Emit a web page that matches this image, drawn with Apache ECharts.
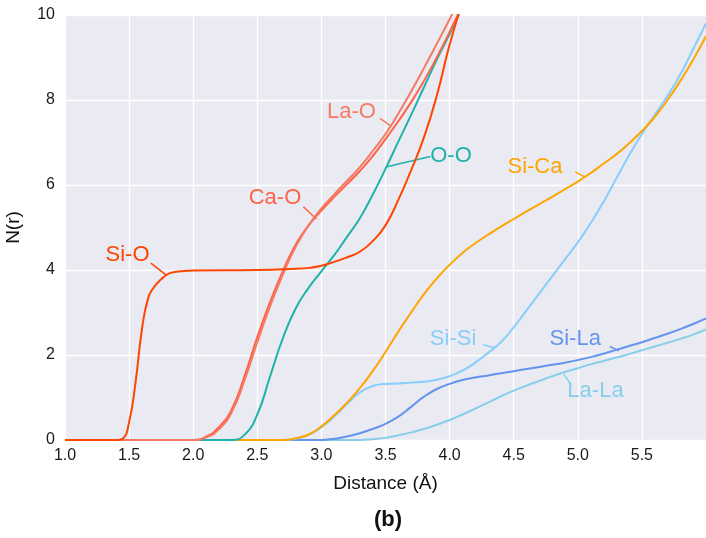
<!DOCTYPE html>
<html><head><meta charset="utf-8">
<script src="https://cdn.jsdelivr.net/npm/echarts@6/dist/echarts.min.js"></script>
<style>html,body{margin:0;padding:0;background:#fff}#c{width:706px;height:538px}</style>
</head><body><div id="c"></div>
<script>
// ---- data ----
const seriesNames = ['Si-O','La-O','Ca-O','O-O','Si-Ca','Si-Si','Si-La','La-La'];
const siO = [[1.0,0],[1.4,0],[1.45,0.03],[1.5,0.42],[1.55,1.35],[1.6,2.6],[1.65,3.35],[1.7,3.62],[1.75,3.78],[1.8,3.9],[1.85,3.95],[1.9,3.97],[2.0,3.99],[2.5,4.0],[2.8,4.03],[2.9,4.05],[3.0,4.1],[3.1,4.19],[3.2,4.3],[3.3,4.43],[3.4,4.68],[3.5,5.05],[3.6,5.65],[3.7,6.35],[3.8,7.12],[3.9,8.1],[4.0,9.3],[4.1,10.3]];
const laO = [[1.0,0],[2.0,0],[2.1,0.06],[2.2,0.25],[2.3,0.65],[2.4,1.4],[2.5,2.3],[2.6,3.15],[2.7,3.9],[2.8,4.55],[2.9,5.05],[3.0,5.45],[3.1,5.78],[3.2,6.1],[3.3,6.42],[3.4,6.8],[3.5,7.2],[3.6,7.68],[3.7,8.2],[3.8,8.75],[3.9,9.32],[4.0,9.9],[4.1,10.5]];
const caO = [[1.0,0],[2.0,0],[2.1,0.08],[2.2,0.3],[2.3,0.72],[2.4,1.5],[2.5,2.42],[2.6,3.25],[2.7,3.98],[2.8,4.6],[2.9,5.05],[3.0,5.4],[3.1,5.72],[3.2,6.02],[3.3,6.33],[3.4,6.68],[3.5,7.08],[3.6,7.5],[3.7,7.95],[3.8,8.45],[3.9,9.0],[4.0,9.6],[4.1,10.25]];
const oO = [[1.0,0],[2.3,0],[2.4,0.12],[2.5,0.6],[2.6,1.5],[2.7,2.4],[2.8,3.1],[2.9,3.58],[3.0,3.97],[3.1,4.35],[3.2,4.78],[3.3,5.22],[3.4,5.77],[3.5,6.38],[3.6,7.02],[3.7,7.65],[3.8,8.3],[3.9,8.95],[4.0,9.55],[4.1,10.2]];
const siCa = [[1.0,0],[2.7,0],[2.8,0.04],[2.9,0.13],[3.0,0.32],[3.1,0.58],[3.2,0.88],[3.3,1.22],[3.4,1.62],[3.5,2.07],[3.6,2.55],[3.7,3.0],[3.8,3.43],[3.9,3.8],[4.0,4.12],[4.1,4.4],[4.2,4.63],[4.3,4.83],[4.4,5.02],[4.5,5.2],[4.6,5.38],[4.7,5.55],[4.8,5.72],[4.9,5.9],[5.0,6.08],[5.1,6.28],[5.2,6.5],[5.3,6.72],[5.4,6.98],[5.5,7.27],[5.6,7.6],[5.7,8.0],[5.8,8.45],[5.9,8.95],[6.0,9.5]];
const siSi = [[1.0,0],[2.7,0],[2.8,0.03],[2.9,0.12],[3.0,0.3],[3.1,0.55],[3.2,0.85],[3.3,1.12],[3.4,1.27],[3.5,1.32],[3.6,1.33],[3.7,1.35],[3.8,1.37],[3.9,1.42],[4.0,1.5],[4.1,1.63],[4.2,1.82],[4.3,2.05],[4.4,2.3],[4.5,2.65],[4.6,3.05],[4.7,3.45],[4.8,3.85],[4.9,4.25],[5.0,4.65],[5.1,5.1],[5.2,5.6],[5.3,6.15],[5.4,6.7],[5.5,7.2],[5.6,7.65],[5.7,8.1],[5.8,8.6],[5.9,9.2],[6.0,9.8]];
const siLa = [[1.0,0],[3.0,0],[3.1,0.03],[3.2,0.08],[3.3,0.16],[3.4,0.26],[3.5,0.38],[3.6,0.55],[3.7,0.78],[3.8,1.02],[3.9,1.2],[4.0,1.32],[4.1,1.41],[4.2,1.47],[4.3,1.52],[4.4,1.57],[4.5,1.62],[4.6,1.67],[4.7,1.72],[4.8,1.77],[4.9,1.82],[5.0,1.88],[5.1,1.95],[5.2,2.03],[5.3,2.12],[5.4,2.21],[5.5,2.3],[5.6,2.4],[5.7,2.5],[5.8,2.61],[5.9,2.73],[6.0,2.86]];
const laLa = [[1.0,0],[3.3,0],[3.4,0.02],[3.5,0.05],[3.6,0.11],[3.7,0.18],[3.8,0.26],[3.9,0.36],[4.0,0.47],[4.1,0.6],[4.2,0.74],[4.3,0.88],[4.4,1.03],[4.5,1.16],[4.6,1.28],[4.7,1.39],[4.8,1.5],[4.9,1.6],[5.0,1.69],[5.1,1.78],[5.2,1.86],[5.3,1.94],[5.4,2.02],[5.5,2.11],[5.6,2.2],[5.7,2.29],[5.8,2.38],[5.9,2.48],[6.0,2.6]];
// label anchors (data coords) and leader lines
const labelAt = [[1.488,4.35],[3.235,7.71],[2.638,5.69],[4.011,6.68],[4.666,6.42],[4.027,2.38],[4.98,2.38],[5.138,1.15]];
const leaders = [
  [[1.67,4.16],[1.79,3.88]],
  [[3.457,7.57],[3.54,7.39]],
  [[2.86,5.49],[2.96,5.2]],
  [[3.85,6.67],[3.51,6.43]],
  [[4.98,6.31],[5.06,6.18]],
  [[4.26,2.24],[4.35,2.17]],
  [[5.25,2.2],[5.32,2.1]],
  [[4.89,1.55],[4.95,1.29]]
];
const xTicks = ['1.0','1.5','2.0','2.5','3.0','3.5','4.0','4.5','5.0','5.5'];
const yTicks = [0,2,4,6,8,10];

// ---- styles ----
const colors = ['#FF4500','#F47A63','#FF6347','#20B2AA','#FFA500','#87CEFA','#6495ED','#87CEEB'];
const allData = [siO, laO, caO, oO, siCa, siSi, siLa, laLa];
const font = '"Liberation Sans", Arial, Helvetica, sans-serif';

const series = seriesNames.map((n, i) => ({
  name: n, type: 'line', data: allData[i], showSymbol: false, symbol: 'none',
  smooth: 0.5,
  lineStyle: { color: colors[i], width: 2 }, itemStyle: { color: colors[i] },
  z: 3 + (7 - i),
  markPoint: {
    symbol: 'circle', symbolSize: 1, itemStyle: { color: 'rgba(0,0,0,0)' }, silent: true,
    label: { show: true, position: 'inside', formatter: n, color: colors[i], fontSize: 22, fontFamily: font },
    data: [{ coord: labelAt[i] }]
  },
  markLine: {
    symbol: 'none', silent: true, label: { show: false },
    lineStyle: { color: colors[i], width: 1.5, type: 'solid' },
    data: [[{ coord: leaders[i][0] }, { coord: leaders[i][1] }]]
  }
}));

const chart = echarts.init(document.getElementById('c'), null, { renderer: 'canvas' });
chart.setOption({
  animation: false,
  backgroundColor: '#ffffff',
  textStyle: { fontFamily: font },
  grid: { left: 65, right: 0, top: 15, bottom: 98, backgroundColor: '#EAEAF2', show: true, borderWidth: 0,
    containLabel: false, outerBoundsMode: 'none' },
  xAxis: {
    type: 'value', min: 1, max: 6, interval: 0.5,
    name: 'Distance (Å)', nameLocation: 'middle', nameGap: 34,
    nameTextStyle: { fontSize: 19, color: '#111', fontFamily: font },
    axisLine: { show: false }, axisTick: { show: false },
    splitLine: { show: true, lineStyle: { color: '#ffffff', width: 1.3 } },
    axisLabel: { fontSize: 16, color: '#1a1a1a', margin: 8, showMaxLabel: false,
      formatter: v => { const s = v.toFixed(1); return xTicks.includes(s) ? s : ''; } }
  },
  yAxis: {
    type: 'value', min: 0, max: 10, interval: 2,
    name: 'N(r)', nameLocation: 'middle', nameGap: 42, nameRotate: 90,
    nameTextStyle: { fontSize: 19, color: '#111', fontFamily: font },
    axisLine: { show: false }, axisTick: { show: false },
    splitLine: { show: true, lineStyle: { color: '#ffffff', width: 1.3 } },
    axisLabel: { fontSize: 16, color: '#1a1a1a', margin: 10,
      formatter: v => yTicks.includes(v) ? String(v) : '' }
  },
  graphic: [{
    type: 'text', left: 374, top: 509,
    style: { text: '(b)', font: 'bold 22px ' + font, fill: '#111' }
  }],
  series: series
});
</script></body></html>
